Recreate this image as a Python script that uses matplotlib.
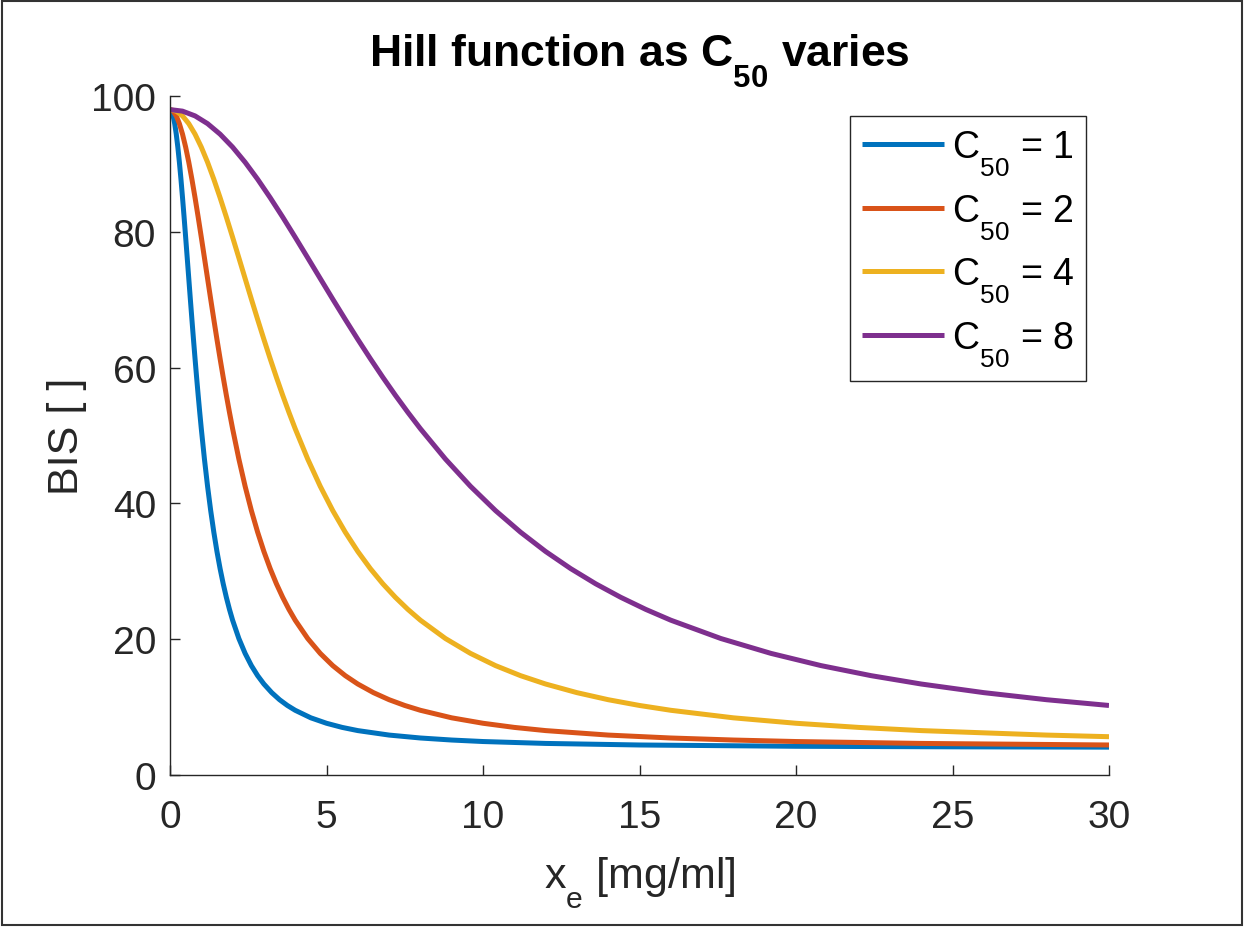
import matplotlib
matplotlib.use('Agg')
import matplotlib.pyplot as plt
from matplotlib.patches import Rectangle

# values (BIS vs effect-site concentration x_e)
x_c1 = [0, 0.05, 0.1, 0.15, 0.2, 0.25, 0.3, 0.35, 0.4, 0.45, 0.5, 0.55, 0.6, 0.65, 0.7,
        0.75, 0.8, 0.85, 0.9, 0.95, 1.0, 1.1, 1.2, 1.3, 1.4, 1.5, 1.6, 1.7, 1.8, 1.9,
        2.0, 2.2, 2.4, 2.6, 2.8, 3.0, 3.25, 3.5, 3.75, 4, 4.5, 5, 5.5, 6, 7, 8, 9, 10,
        12, 15, 20, 25, 30]
bis_c1 = [98, 97.77, 97.07, 95.93, 94.38, 92.47, 90.24, 87.74, 85.03, 82.17, 79.2, 76.17,
          73.12, 70.08, 67.09, 64.16, 61.32, 58.57, 55.93, 53.41, 51, 46.53, 42.52, 38.94,
          35.76, 32.92, 30.40, 28.16, 26.17, 24.39, 22.8, 20.10, 17.91, 16.11, 14.63, 13.4,
          12.13, 11.09, 10.24, 9.53, 8.42, 7.62, 7.01, 6.54, 5.88, 5.45, 5.15, 4.93, 4.65,
          4.42, 4.23, 4.15, 4.10]

x_c2 = [0, 0.1, 0.2, 0.3, 0.4, 0.5, 0.6, 0.7, 0.8, 0.9, 1.0, 1.1, 1.2, 1.3, 1.4, 1.5,
        1.6, 1.7, 1.8, 1.9, 2.0, 2.2, 2.4, 2.6, 2.8, 3.0, 3.2, 3.4, 3.6, 3.8, 4.0, 4.4,
        4.8, 5.2, 5.6, 6.0, 6.5, 7.0, 7.5, 8, 9, 10, 11, 12, 14, 16, 18, 20, 24, 30]
bis_c2 = [98, 97.77, 97.07, 95.93, 94.38, 92.47, 90.24, 87.74, 85.03, 82.17, 79.2, 76.17,
          73.12, 70.08, 67.09, 64.16, 61.32, 58.57, 55.93, 53.41, 51, 46.53, 42.52, 38.94,
          35.76, 32.92, 30.40, 28.16, 26.17, 24.39, 22.8, 20.10, 17.91, 16.11, 14.63, 13.4,
          12.13, 11.09, 10.24, 9.53, 8.42, 7.62, 7.01, 6.54, 5.88, 5.45, 5.15, 4.93, 4.65,
          4.42]

x_c4 = [0, 0.2, 0.4, 0.6, 0.8, 1.0, 1.2, 1.4, 1.6, 1.8, 2.0, 2.2, 2.4, 2.6, 2.8, 3.0,
        3.2, 3.4, 3.6, 3.8, 4.0, 4.4, 4.8, 5.2, 5.6, 6.0, 6.4, 6.8, 7.2, 7.6, 8.0, 8.8,
        9.6, 10.4, 11.2, 12, 13, 14, 15, 16, 18, 20, 22, 24, 28, 30]
bis_c4 = [98, 97.77, 97.07, 95.93, 94.38, 92.47, 90.24, 87.74, 85.03, 82.17, 79.2, 76.17,
          73.12, 70.08, 67.09, 64.16, 61.32, 58.57, 55.93, 53.41, 51, 46.53, 42.52, 38.94,
          35.76, 32.92, 30.40, 28.16, 26.17, 24.39, 22.8, 20.10, 17.91, 16.11, 14.63, 13.4,
          12.13, 11.09, 10.24, 9.53, 8.42, 7.62, 7.01, 6.54, 5.88, 5.64]

x_c8 = [0, 0.4, 0.8, 1.2, 1.6, 2.0, 2.4, 2.8, 3.2, 3.6, 4.0, 4.4, 4.8, 5.2, 5.6, 6.0,
        6.4, 6.8, 7.2, 7.6, 8.0, 8.8, 9.6, 10.4, 11.2, 12.0, 12.8, 13.6, 14.4, 15.2, 16.0,
        17.6, 19.2, 20.8, 22.4, 24, 26, 28, 30]
bis_c8 = [98, 97.77, 97.07, 95.93, 94.38, 92.47, 90.24, 87.74, 85.03, 82.17, 79.2, 76.17,
          73.12, 70.08, 67.09, 64.16, 61.32, 58.57, 55.93, 53.41, 51, 46.53, 42.52, 38.94,
          35.76, 32.92, 30.40, 28.16, 26.17, 24.39, 22.8, 20.10, 17.91, 16.11, 14.63, 13.4,
          12.13, 11.09, 10.24]

c50_labels = ['1', '2', '4', '8']
colors = ['#0072BD', '#D95319', '#EDB120', '#7E2F8E']

plt.rcParams['font.family'] = ['Liberation Sans', 'DejaVu Sans']
plt.rcParams['mathtext.fontset'] = 'custom'
plt.rcParams['mathtext.rm'] = 'Liberation Sans'
plt.rcParams['mathtext.it'] = 'Liberation Sans'
plt.rcParams['mathtext.bf'] = 'Liberation Sans:bold'

# MATLAB-style subscripts sit lower than mathtext default
try:
    from matplotlib import _mathtext
    _mathtext.FontConstantsBase.sub1 = 0.9
    _mathtext.FontConstantsBase.sub2 = 0.9
except Exception:
    pass

fig = plt.figure(figsize=(12.44, 9.28), dpi=100)
ax = fig.add_axes([170 / 1244, 1 - 776 / 928, 939 / 1244, 679 / 928])

series = [(x_c1, bis_c1), (x_c2, bis_c2), (x_c4, bis_c4), (x_c8, bis_c8)]
for (xs, ys), lab, col in zip(series, c50_labels, colors):
    ax.plot(xs, ys, color=col, lw=3.6, label=r'$\mathregular{C_{50}}$ = ' + lab,
            solid_capstyle='butt')

ax.set_xlim(0, 30)
ax.set_ylim(0, 100)
ax.set_xticks([0, 5, 10, 15, 20, 25, 30])
ax.set_yticks([0, 20, 40, 60, 80, 100])
for s in ['top', 'right']:
    ax.spines[s].set_visible(False)
for s in ['left', 'bottom']:
    ax.spines[s].set_color('#262626')
    ax.spines[s].set_linewidth(1)
ax.tick_params(direction='in', length=7, width=1, colors='#262626', labelsize=28)
ax.tick_params(axis='x', pad=17)
ax.tick_params(axis='y', pad=10)

ax.set_xlabel(r'$\mathregular{x_e}$ [mg/ml]', fontsize=31, color='#262626', labelpad=14)
ax.set_ylabel('BIS [ ]', fontsize=31, color='#262626', labelpad=3)
ax.set_title(r'Hill function as $\mathbf{C_{50}}$ varies', fontsize=32,
             fontweight='bold', pad=22)

leg = ax.legend(loc='upper right', bbox_to_anchor=((1086 - 170) / 939, (776 - 117) / 679),
                borderaxespad=0, fontsize=27, handlelength=2.2, handletextpad=0.2,
                labelspacing=0.37, borderpad=0.32, fancybox=False, framealpha=1)
leg.get_frame().set_edgecolor('#262626')
leg.get_frame().set_linewidth(1)

# outer frame around the whole figure
fig.patches.append(Rectangle((0.002, 0.002), 0.996, 0.996, transform=fig.transFigure,
                             fill=False, edgecolor='#333333', lw=1.5))

fig.savefig('out.png', dpi=100)
